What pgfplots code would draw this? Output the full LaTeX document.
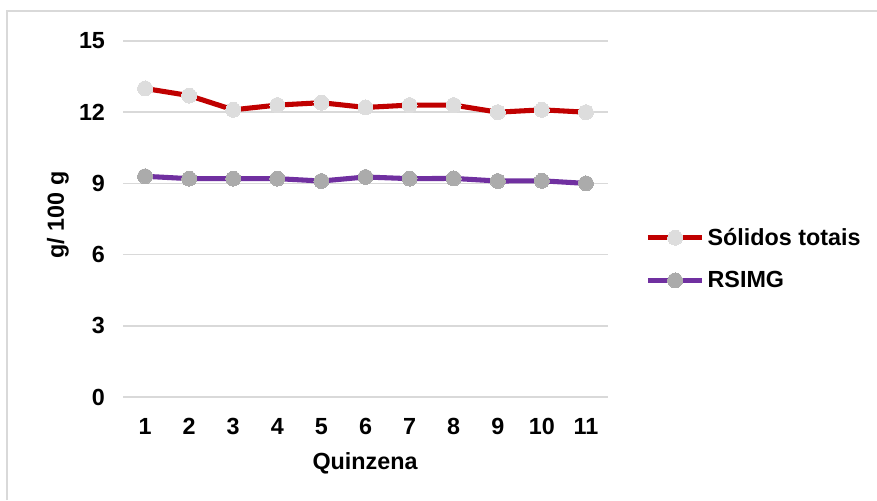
\documentclass[border=0pt]{standalone}
\usepackage{fontspec}
\setmainfont{Liberation Sans}
\usepackage{pgfplots}
\pgfplotsset{compat=1.18}
\definecolor{serRed}{HTML}{C00000}
\definecolor{serPurple}{HTML}{7030A0}
\definecolor{mkLight}{HTML}{DDDDDD}
\definecolor{mkGray}{HTML}{ABABAB}
\definecolor{gridGray}{HTML}{D9D9D9}
\newcommand{\lblfont}{\fontsize{17.5}{20}\selectfont\bfseries}

\begin{document}
\begin{tikzpicture}
\path[use as bounding box] (0pt,0pt) rectangle (657.75pt,375pt);
% outer chart frame (cut at right and bottom)
\draw[gridGray, line width=1.2pt] (5.25pt,0pt) -- (5.25pt,366.75pt) -- (657.75pt,366.75pt);
\begin{axis}[
    at={(92.25pt,77.25pt)}, anchor=south west,
    scale only axis,
    width=363.75pt, height=267pt,
    xmin=0.5, xmax=11.5,
    ymin=0, ymax=15,
    xtick={1,...,11},
    ytick={0,3,6,9,12,15},
    axis line style={draw=none},
    major tick length=0pt,
    ymajorgrids,
    grid style={gridGray, line width=1.2pt},
    /pgf/number format/assume math mode=true,
    tick label style={font=\lblfont},
    yticklabel style={xshift=-10pt},
    xticklabel style={yshift=-12.5pt},
    xlabel={Quinzena},
    ylabel={g/ 100 g},
    label style={font=\lblfont},
    xlabel style={at={(axis description cs:0.499,-0.185)}, anchor=center},
    ylabel style={at={(axis description cs:-0.134,0.511)}, anchor=center},
    legend style={at={(axis description cs:1.068,0.388)}, anchor=west,
        draw=none, fill=none, font=\lblfont, row sep=14pt,
        /tikz/every even column/.append style={column sep=0pt}},
    legend cell align=left,
    legend image code/.code={%
        \draw[mark repeat=2,mark phase=2,#1] plot coordinates {(0pt,0pt) (20.5pt,0pt) (41pt,0pt)};},
]
\addplot[serRed, line width=3.8pt, mark=*, mark size=5.6pt,
    mark options={fill=mkLight, draw=mkLight, line width=0pt}]
    coordinates {(1,13.0) (2,12.7) (3,12.1) (4,12.3) (5,12.4) (6,12.2)
                 (7,12.3) (8,12.3) (9,12.0) (10,12.1) (11,12.0)};
\addlegendentry{Sólidos totais}
\addplot[serPurple, line width=3.8pt, mark=*, mark size=5.6pt,
    mark options={fill=mkGray, draw=mkGray, line width=0pt}]
    coordinates {(1,9.3) (2,9.2) (3,9.2) (4,9.2) (5,9.1) (6,9.27)
                 (7,9.2) (8,9.21) (9,9.1) (10,9.11) (11,9.0)};
\addlegendentry{RSIMG}
\end{axis}
\end{tikzpicture}
\end{document}
